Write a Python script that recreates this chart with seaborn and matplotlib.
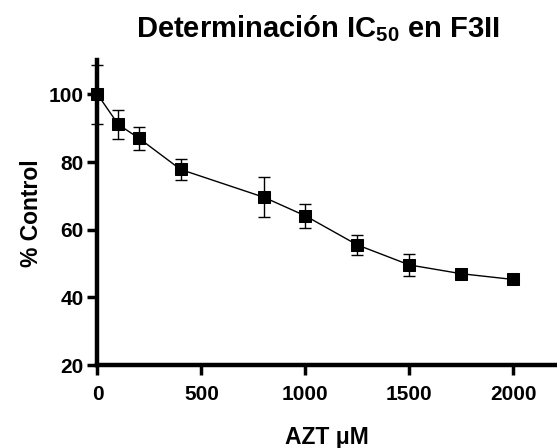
import matplotlib
matplotlib.use("Agg")
import matplotlib.pyplot as plt
import seaborn as sns
import pandas as pd

azt_um = [0, 100, 200, 400, 800, 1000, 1250, 1500, 1750, 2000]
pct_control = [100.0, 91.1, 87.0, 77.8, 69.6, 64.1, 55.5, 49.6, 47.0, 45.3]
sem = [8.7, 4.2, 3.3, 3.2, 5.9, 3.6, 2.9, 3.3, 0.8, 0.6]
x_ticks = [0, 500, 1000, 1500, 2000]
y_ticks = [20, 40, 60, 80, 100]

sns.set_theme(style="ticks")
plt.rcParams['font.family'] = ['Liberation Sans', 'DejaVu Sans']
plt.rcParams['font.weight'] = 'bold'
plt.rcParams['text.color'] = 'black'
plt.rcParams['axes.labelcolor'] = 'black'
plt.rcParams['xtick.color'] = 'black'
plt.rcParams['ytick.color'] = 'black'
plt.rcParams['mathtext.fontset'] = 'custom'
plt.rcParams['mathtext.rm'] = 'Liberation Sans:bold'
plt.rcParams['mathtext.it'] = 'Liberation Sans:bold'
plt.rcParams['mathtext.bf'] = 'Liberation Sans:bold'

df = pd.DataFrame({"AZT": azt_um, "pct": pct_control, "sem": sem})

fig = plt.figure(figsize=(5.57, 4.48), dpi=100)
ax = fig.add_axes([0.175, 0.185, 0.825, 0.68])

ax.errorbar(df["AZT"], df["pct"], yerr=df["sem"], fmt="none", ecolor="black",
            elinewidth=1.0, capsize=4, capthick=1.0, clip_on=False, zorder=3)
sns.lineplot(data=df, x="AZT", y="pct", ax=ax, color="black", linewidth=1.0,
             marker="s", markersize=8.5, markeredgecolor="black",
             markerfacecolor="black", clip_on=False, zorder=4)

ax.set_xlim(0, 2210)
ax.set_ylim(20, 110)
ax.set_xticks(x_ticks)
ax.set_yticks(y_ticks)

for side in ["top", "right"]:
    ax.spines[side].set_visible(False)
for side in ["left", "bottom"]:
    ax.spines[side].set_linewidth(3.2)
    ax.spines[side].set_color("black")

ax.tick_params(axis="both", which="major", direction="out", length=7, width=2.5,
               color="black", labelcolor="black", labelsize=15, pad=3)
ax.tick_params(axis="x", pad=7)
for lab in ax.get_xticklabels() + ax.get_yticklabels():
    lab.set_fontweight("bold")

ax.set_xlabel("AZT μM", fontsize=16.5, fontweight="bold", labelpad=16, color="black")
ax.set_ylabel("% Control", fontsize=16.5, fontweight="bold", labelpad=4, color="black")
ax.set_title("Determinación IC$_{50}$ en F3II", fontsize=21, fontweight="bold",
             pad=17, x=0.48, color="black")

fig.savefig("out.png", dpi=100)
